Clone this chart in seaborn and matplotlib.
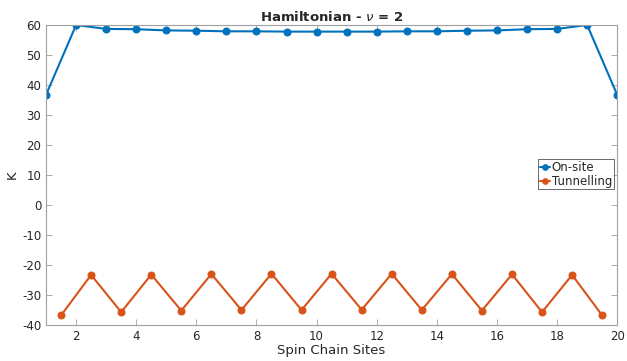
import matplotlib
matplotlib.use("Agg")
import matplotlib.pyplot as plt
import seaborn as sns
import pandas as pd

# Hamiltonian coefficients along a 20-site spin chain
onsite_sites = list(range(1, 21))
onsite_values = [36.7, 60.0, 58.7, 58.6, 58.2, 58.1, 57.9, 57.9, 57.8, 57.8,
                 57.8, 57.8, 57.9, 57.9, 58.1, 58.2, 58.6, 58.7, 60.0, 36.7]

tunnel_sites = [i + 0.5 for i in range(1, 20)]
tunnel_values = [-36.8, -23.3, -35.7, -23.2, -35.2, -23.0, -35.0, -22.9, -35.0, -22.9,
                 -34.9, -22.9, -35.0, -23.0, -35.2, -23.1, -35.7, -23.3, -36.8]

x_ticks = [2, 4, 6, 8, 10, 12, 14, 16, 18, 20]
y_ticks = [-40, -30, -20, -10, 0, 10, 20, 30, 40, 50, 60]

sns.set_style("white")
plt.rcParams["font.family"] = ["DejaVu Sans"]

blue = "#0072BD"
orange = "#D95319"
axis_grey = "#262626"

fig = plt.figure(figsize=(6.27, 3.61), dpi=100)
ax = fig.add_axes([0.0734, 0.0997, 0.911, 0.831])

df_on = pd.DataFrame({"site": onsite_sites, "K": onsite_values})
df_tu = pd.DataFrame({"site": tunnel_sites, "K": tunnel_values})

sns.lineplot(data=df_on, x="site", y="K", ax=ax, color=blue, marker="o",
             markersize=5, markeredgecolor=blue, linewidth=1.5, label="On-site")
sns.lineplot(data=df_tu, x="site", y="K", ax=ax, color=orange, marker="o",
             markersize=5, markeredgecolor=orange, linewidth=1.5, label="Tunnelling")

ax.set_xlim(1, 20)
ax.set_ylim(-40, 60)
ax.set_xticks(x_ticks)
ax.set_yticks(y_ticks)
ax.set_xticklabels([str(t) for t in x_ticks])
ax.set_yticklabels([str(t) for t in y_ticks])

ax.tick_params(direction="in", length=4, width=0.6, colors="#a0a0a0",
               labelcolor=axis_grey, labelsize=8.5, top=True, right=True,
               bottom=True, left=True, labeltop=False, labelright=False)
for side in ax.spines.values():
    side.set_color("#a0a0a0")
    side.set_linewidth(0.8)

ax.set_xlabel("Spin Chain Sites", fontsize=9.5, color=axis_grey, labelpad=1)
ax.set_ylabel("K", fontsize=9.5, color=axis_grey, labelpad=2)
ax.set_title(r"Hamiltonian - $\nu$ = 2", fontsize=9.5, fontweight="bold", pad=3)

leg = ax.legend(loc="center right", bbox_to_anchor=(0.998, 0.502), fontsize=8.5,
                frameon=True, fancybox=False, handlelength=0.9, handletextpad=0.1,
                borderpad=0.15, labelspacing=0.05, borderaxespad=0.2, markerscale=0.8)
leg.get_frame().set_edgecolor("#262626")
leg.get_frame().set_linewidth(0.6)

fig.savefig("out.png", dpi=100)
